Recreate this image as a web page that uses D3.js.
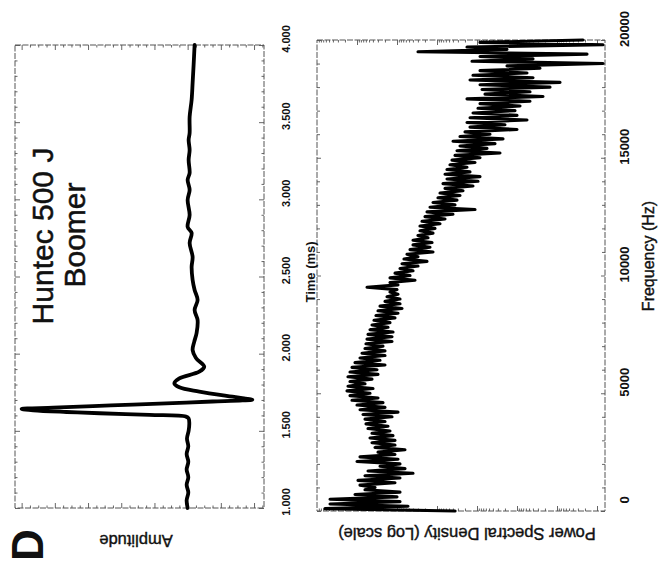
<!DOCTYPE html>
<html>
<head>
<meta charset="utf-8">
<script src="https://cdn.jsdelivr.net/npm/d3@7"></script>
<style>
  html, body { margin: 0; padding: 0; background: #fff; }
  svg { display: block; font-family: "Liberation Sans", Arial, Helvetica, sans-serif; }
  .frame { fill: none; stroke: #555; stroke-width: 1; stroke-dasharray: 6,1.5; }
  .tick-axis path.domain { display: none; }
  .tick-axis line { stroke: #555; stroke-width: 0.9; }
  .trace { fill: none; stroke: #000; stroke-linejoin: round; stroke-linecap: round; }
</style>
</head>
<body>
<svg id="chart" width="663" height="562"></svg>
<script>
// 図全体が90度回転したスキャン画像なので、画面座標でそのまま縦向きに描く

// 波形 (Huntec 500 J Boomer)
var timeMs = [
  1.000, 1.050, 1.100, 1.150, 1.200, 1.250, 1.300, 1.350, 1.400, 1.450,
  1.500, 1.550, 1.580, 1.592, 1.603, 1.614, 1.622, 1.633, 1.642, 1.650,
  1.660, 1.670, 1.680, 1.690, 1.697, 1.702, 1.710, 1.721, 1.754, 1.782,
  1.808, 1.840, 1.883, 1.916, 1.972, 2.024, 2.078, 2.134, 2.218, 2.283,
  2.348, 2.413, 2.478, 2.562, 2.627, 2.717, 2.782, 2.821, 2.899, 2.996,
  3.061, 3.126, 3.171, 3.255, 3.320, 3.385, 3.430, 3.534, 3.644, 3.754,
  3.871, 4.000
];
var amplitude = [
  0.000, 0.006, -0.004, 0.006, -0.004, 0.006, -0.004, 0.006, -0.004, 0.004,
  -0.006, -0.010, -0.006, 0.010, 0.230, 0.530, 0.730, 0.930, 1.000, 0.810,
  0.570, 0.330, 0.090, -0.150, -0.330, -0.390, -0.340, -0.270, -0.070, 0.050,
  0.080, 0.050, -0.070, -0.100, -0.050, -0.030, -0.040, -0.054, -0.060, -0.042,
  -0.060, -0.042, -0.030, -0.024, -0.030, -0.012, -0.024, 0.000, -0.012, 0.000,
  -0.012, 0.000, -0.012, -0.006, -0.012, -0.006, -0.012, -0.012, -0.024, -0.030,
  -0.036, -0.042
];

// パワースペクトル密度 (相対dB, 100Hz刻み, 0〜20000Hz)
var freqStepHz = 100;
var psdDb = [
  -34.5, -2, -22.75, -3.25, -20.75, -3.25, -20, -9.5, -20.75, -12,
  -14.5, -10.75, -19.5, -10.25, -20.75, -12, -24, -12.75, -22, -15.75,
  -20.75, -10, -20.25, -10.75, -19.5, -15.25, -22, -14.5, -19.5, -13.75,
  -19.5, -13.25, -19, -13.75, -18.25, -12.75, -17.75, -12.25, -17, -12,
  -18.75, -11.5, -20.25, -10.75, -17, -10, -16.5, -8.75, -15.25, -8.25,
  -13.25, -7.5, -14, -7.75, -12, -8.25, -13.75, -7.75, -15.25, -8.25,
  -15, -8.75, -17, -9.5, -15.75, -10.75, -17, -11.25, -17, -12,
  -16.5, -12.25, -18.75, -12.5, -18.75, -12.75, -19, -13.25, -17.75, -13.75,
  -18.25, -14.25, -19.5, -14.75, -20.25, -15.25, -21.25, -15.75, -20.75, -17,
  -20.75, -17.5, -20.25, -18.25, -20, -12.5, -20.25, -18.25, -24.5, -18.25,
  -23.25, -19.5, -24, -20.75, -25.25, -21.25, -27.5, -21.75, -25.25, -22.5,
  -29, -23.25, -28.25, -24, -28.75, -24, -27.75, -25.25, -29, -25.75,
  -29.5, -25.75, -30.75, -26.25, -32, -27, -34, -27.5, -39.5, -28.25,
  -34.5, -29, -35, -30.25, -35.75, -30.75, -36.5, -32, -39, -31.5,
  -40.25, -32.5, -40.75, -32, -38.25, -32.5, -37.5, -33.25, -39.5, -33.75,
  -40.75, -34.5, -45.75, -35, -42.5, -35.75, -44.5, -34, -46.5, -35.75,
  -43.25, -37, -50, -38.25, -47, -37.5, -52.5, -38.25, -50, -39,
  -49.5, -40.25, -50.75, -40.75, -53.25, -37.5, -56.5, -42, -53.25, -41.25,
  -58.25, -40.75, -60.75, -38.25, -54, -39, -52.5, -40.75, -55.75, -47.5,
  -71.5, -38.75, -54, -40.75, -67.5, -25.25, -47.5, -37.5, -71.5, -40.75,
  -66.5
];

// 目盛ラベル
var timeTicks = [1.0, 1.5, 2.0, 2.5, 3.0, 3.5, 4.0];
var freqTicks = [0, 5000, 10000, 15000, 20000];
var titleLines = ['Huntec 500 J', 'Boomer'];

(function() {
  var svg = d3.select('#chart');

  // 上側パネル(波形)の枠
  var wave = { left: 15, right: 264, top: 45, bottom: 508 };
  // 下側パネル(スペクトル)の枠
  var spec = { left: 317, right: 605, top: 40, bottom: 511 };

  // スケール
  var yTime = d3.scaleLinear().domain([1, 4]).range([wave.bottom, wave.top]);
  var xAmp = d3.scaleLinear().domain([-0.46, 1.04]).range([wave.right, wave.left]);
  var yFreq = d3.scaleLinear().domain([0, 20000]).range([spec.bottom, spec.top]);
  var xPsd = d3.scaleLinear().domain([0, -72]).range([spec.left, spec.right]);

  // 内向きの目盛 (主目盛だけ長くする)
  function addTicks(orient, scale, tx, ty, values, majorFn, major, minor) {
    var axis = orient(scale).tickValues(values).tickFormat('').tickSizeOuter(0)
      .tickSizeInner(minor);
    var g = svg.append('g')
      .attr('class', 'tick-axis')
      .attr('transform', 'translate(' + tx + ',' + ty + ')')
      .call(axis);
    g.selectAll('.tick line').each(function(d) {
      var line = d3.select(this);
      var len = majorFn(d) ? major : minor;
      ['x2', 'y2'].forEach(function(k) {
        var v = +line.attr(k);
        if (v) line.attr(k, v > 0 ? len : -len);
      });
    });
  }

  function near(v, step) {
    var r = v / step;
    return Math.abs(r - Math.round(r)) < 1e-6;
  }

  // 上側パネル: 時間軸(左右の辺)
  var timeMinor = d3.range(1, 4.0001, 0.1);
  addTicks(d3.axisRight, yTime, wave.left, 0, timeMinor, function(d) { return near(d - 1, 0.5); }, 5, 2.5);
  addTicks(d3.axisLeft, yTime, wave.right, 0, timeMinor, function(d) { return near(d - 1, 0.5); }, 5, 2.5);

  // 上側パネル: 振幅軸(上下の辺)
  var ampMinor = d3.range(-0.45, 1.04, 0.05);
  addTicks(d3.axisBottom, xAmp, 0, wave.top, ampMinor, function(d) { return near(d, 0.2); }, 5, 2.5);
  addTicks(d3.axisTop, xAmp, 0, wave.bottom, ampMinor, function(d) { return near(d, 0.2); }, 5, 2.5);

  // 下側パネル: 周波数軸(左右の辺)
  var freqMinor = d3.range(0, 20001, 1000);
  addTicks(d3.axisRight, yFreq, spec.left, 0, freqMinor, function(d) { return d % 5000 === 0; }, 4, 3);
  addTicks(d3.axisLeft, yFreq, spec.right, 0, freqMinor, function(d) { return d % 5000 === 0; }, 4, 3);

  // 下側パネル: PSD軸(対数目盛)
  var psdTicks = [];
  d3.range(1, 8).forEach(function(n) {
    psdTicks.push(-10 * n);
    d3.range(2, 10).forEach(function(k) {
      psdTicks.push(-10 * n + 10 * Math.log10(k));
    });
  });
  psdTicks = psdTicks.filter(function(v) { return v > -72 && v < 0; });
  addTicks(d3.axisBottom, xPsd, 0, spec.top, psdTicks, function(d) { return near(d, 10); }, 5, 2.5);
  addTicks(d3.axisTop, xPsd, 0, spec.bottom, psdTicks, function(d) { return near(d, 10); }, 5, 2.5);

  // 枠
  [wave, spec].forEach(function(b) {
    svg.append('rect')
      .attr('class', 'frame')
      .attr('x', b.left)
      .attr('y', b.top)
      .attr('width', b.right - b.left)
      .attr('height', b.bottom - b.top);
  });

  // 波形ライン
  var waveData = timeMs.map(function(t, i) { return { t: t, a: amplitude[i] }; });
  var waveLine = d3.line()
    .x(function(d) { return xAmp(d.a); })
    .y(function(d) { return yTime(d.t); })
    .curve(d3.curveCatmullRom.alpha(0.5));
  svg.append('path')
    .datum(waveData)
    .attr('class', 'trace')
    .attr('stroke-width', 3.8)
    .attr('d', waveLine);

  // スペクトルライン
  var specData = psdDb.map(function(v, i) { return { f: i * freqStepHz, p: v }; });
  var specLine = d3.line()
    .x(function(d) { return xPsd(d.p); })
    .y(function(d) { return yFreq(d.f); });
  svg.append('path')
    .datum(specData)
    .attr('class', 'trace')
    .attr('stroke-width', 3.1)
    .attr('d', specLine);

  // 回転テキストのヘルパー
  function label(x, y, angle, text, size, weight, anchor, halo) {
    return svg.append('text')
      .attr('transform', 'translate(' + x + ',' + y + ') rotate(' + angle + ')')
      .attr('text-anchor', anchor || 'middle')
      .style('font-size', size + 'px')
      .style('font-weight', weight || 'normal')
      .attr('fill', '#111')
      .attr('stroke', '#111')
      .attr('stroke-width', halo || 0)
      .text(text);
  }

  // 時間軸ラベル
  var fmtTime = d3.format('.3f');
  timeTicks.forEach(function(t) {
    label(290, yTime(t) - 6, -90, fmtTime(t), 11, 'bold');
  });
  label(315, 272, -90, 'Time (ms)', 13, 'bold');

  // 周波数軸ラベル
  freqTicks.forEach(function(f) {
    label(629, yFreq(f) - 11, -90, String(f), 13, 'bold');
  });
  label(654, 256, -90, 'Frequency (Hz)', 16, 'normal', 'middle', 0.4);

  // 縦軸タイトル(上下逆さま)
  label(136, 535, 180, 'Amplitude', 16.5, 'normal', 'middle', 0.4);
  label(467, 528, 180, 'Power Spectral Density (Log scale)', 16.5, 'normal', 'middle', 0.4);

  // タイトル
  label(53, 236, -90, titleLines[0], 30, 'normal', 'middle', 0.5);
  label(85, 235, -90, titleLines[1], 30, 'normal', 'middle', 0.5);

  // パネル記号
  label(43, 561, -90, 'D', 44, 'bold', 'start');
})();
</script>
</body>
</html>
